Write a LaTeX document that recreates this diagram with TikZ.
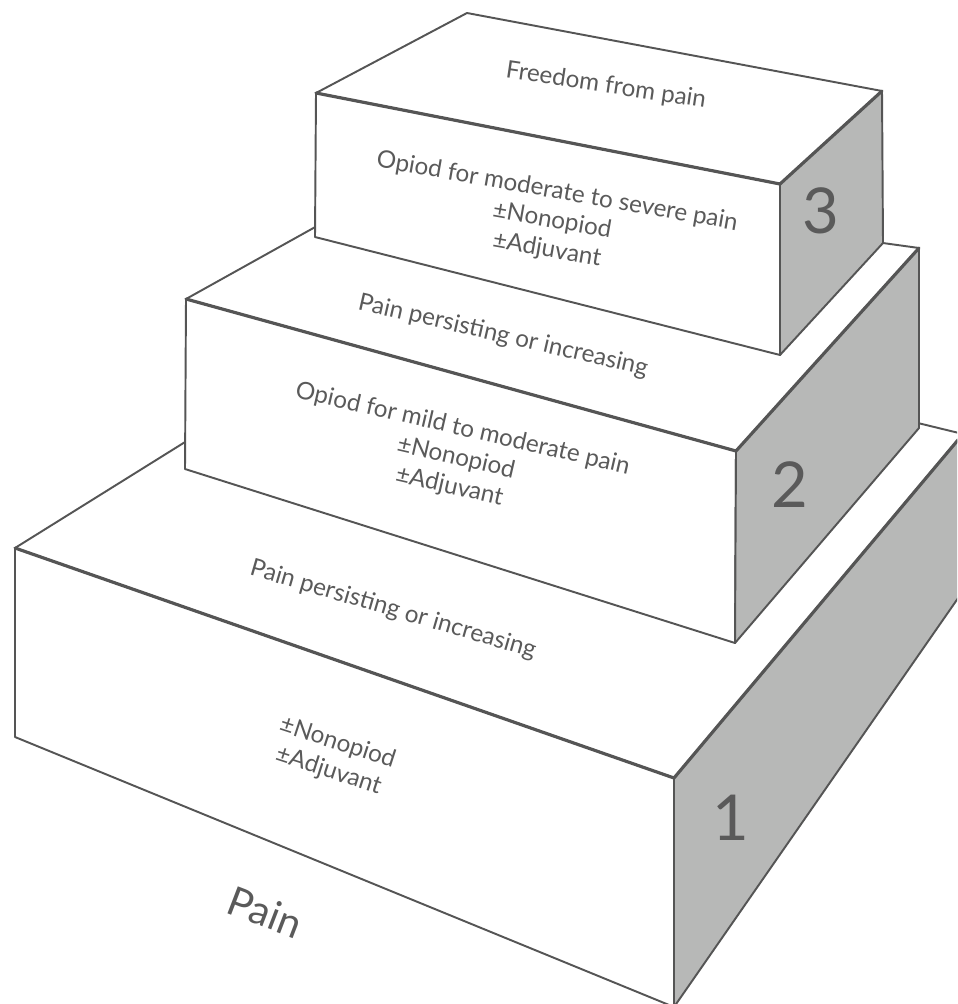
\documentclass[tikz,border=0pt]{standalone}
\usepackage{fontspec}
\setmainfont{Lato}
\definecolor{edge}{HTML}{555555}
\definecolor{sidegray}{HTML}{B7B8B7}
\definecolor{ink}{HTML}{5A5A5A}
\tikzset{
  face/.style={fill=white, draw=edge, line width=1.1pt, line join=round},
  sideface/.style={fill=sidegray, draw=edge, line width=1.1pt, line join=round},
  rim/.style={draw=edge, line width=1.8pt, line cap=round},
  steptext/.style={text=ink, font=\fontsize{13.8}{16.8}\selectfont, inner sep=0pt, align=center},
  stepnum/.style={text=ink, font=\fontsize{36}{40}\selectfont, inner sep=0pt}
}
\begin{document}
\begin{tikzpicture}[x=0.02cm, y=-0.02cm]
\useasboundingbox (0,0) rectangle (957,1004);
\clip (0,0) rectangle (957,1004);
% step 1
\coordinate (A1) at (413,300);
\coordinate (B1) at (15,548);
\coordinate (C1) at (963,434);
\coordinate (D1) at (674,778);
\coordinate (E1) at (15,737);
\coordinate (F1) at (674,1007);
\coordinate (G1) at (963,591);
\draw[face] (A1) -- (C1) -- (D1) -- (B1) -- cycle;
\draw[face] (B1) -- (D1) -- (F1) -- (E1) -- cycle;
\draw[sideface] (D1) -- (C1) -- (G1) -- (F1) -- cycle;
\draw[rim] (B1) -- (D1) -- (C1);
% step 2
\coordinate (A2) at (405,177);
\coordinate (B2) at (186,299);
\coordinate (C2) at (919,248);
\coordinate (D2) at (736,451);
\coordinate (E2) at (185,469);
\coordinate (F2) at (735,643);
\coordinate (G2) at (919,428);
\draw[face] (A2) -- (C2) -- (D2) -- (B2) -- cycle;
\draw[face] (B2) -- (D2) -- (F2) -- (E2) -- cycle;
\draw[sideface] (D2) -- (C2) -- (G2) -- (F2) -- cycle;
\draw[rim] (B2) -- (D2) -- (C2);
% step 3
\coordinate (A3) at (467,13);
\coordinate (B3) at (316,93);
\coordinate (C3) at (882,91);
\coordinate (D3) at (780,184);
\coordinate (E3) at (315,237);
\coordinate (F3) at (780,355);
\coordinate (G3) at (883,243);
\draw[face] (A3) -- (C3) -- (D3) -- (B3) -- cycle;
\draw[face] (B3) -- (D3) -- (F3) -- (E3) -- cycle;
\draw[sideface] (D3) -- (C3) -- (G3) -- (F3) -- cycle;
\draw[rim] (B3) -- (D3) -- (C3);
% labels
\node[steptext, rotate=-8.5] (free) at (606,86) {Freedom from pain};
\node[steptext, rotate=-10] (drug3) at (552,221) {Opiod for moderate to severe pain\\±Nonopiod\\±Adjuvant};
\node[steptext, rotate=-13] (pers2) at (503,336) {Pain persisting or increasing};
\node[steptext, rotate=-13] (drug2) at (456,458) {Opiod for mild to moderate pain\\±Nonopiod\\±Adjuvant};
\node[steptext, rotate=-16.3] (pers1) at (393,610) {Pain persisting or increasing};
\node[steptext, rotate=-18] (drug1) at (333,757) {±Nonopiod\\±Adjuvant};
\node[text=ink, font=\fontsize{23}{26}\selectfont, inner sep=0pt, rotate=-21] (pain) at (265,912) {Pain};
\node[stepnum] (n3) at (821,211) {3};
\node[stepnum] (n2) at (790,485) {2};
\node[stepnum] (n1) at (731,818) {1};
\end{tikzpicture}
\end{document}
